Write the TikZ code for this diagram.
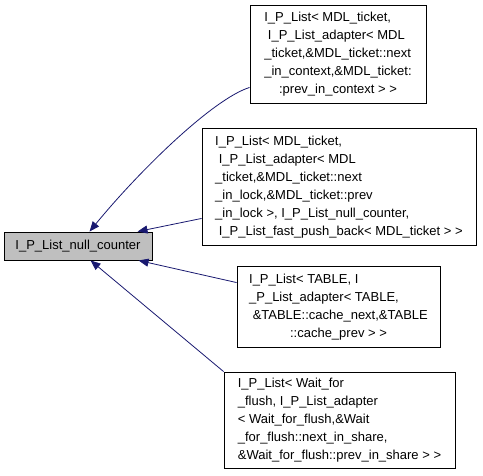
\documentclass[tikz,border=0pt]{standalone}
\usepackage{fontspec}
\setmainfont{Liberation Sans}
\usetikzlibrary{arrows.meta,calc}
\definecolor{nodegray}{HTML}{BFBFBF}
\definecolor{edgeblue}{HTML}{191970}
\newcommand{\lastln}[1]{\multicolumn{1}{@{}c@{}}{#1}}
\tikzset{
  classbox/.style={draw=black, line width=0.9pt, inner sep=0pt, anchor=center,
    font=\fontsize{13}{18}\selectfont},
  mainbox/.style={classbox, fill=nodegray},
  inherit/.style={draw=edgeblue, line width=0.8pt,
    -{Triangle[length=10pt,width=8pt,fill=edgeblue]}}
}
\begin{document}
\begin{tikzpicture}[x=1pt,y=-1pt]
\useasboundingbox (0,0) rectangle (483,475);

\node[mainbox, minimum width=148pt, minimum height=28pt] (main) at (78,246)
  {I\_P\_List\_null\_counter};

\node[classbox, minimum width=176pt, minimum height=98pt] (b1) at (338,54)
  {\begin{tabular}{@{}l@{}}
   I\_P\_List< MDL\_ticket,\\
   \ I\_P\_List\_adapter< MDL\\
   \_ticket,\&MDL\_ticket::next\\
   \_in\_context,\&MDL\_ticket:\\
   \lastln{:prev\_in\_context > >}
   \end{tabular}};

\node[classbox, minimum width=274pt, minimum height=117pt] (b2) at (339,186.5)
  {\begin{tabular}{@{}l@{}}
   I\_P\_List< MDL\_ticket,\\
   \ I\_P\_List\_adapter< MDL\\
   \_ticket,\&MDL\_ticket::next\\
   \_in\_lock,\&MDL\_ticket::prev\\
   \_in\_lock >, I\_P\_List\_null\_counter,\\
   \lastln{\ I\_P\_List\_fast\_push\_back< MDL\_ticket > >}
   \end{tabular}};

\node[classbox, minimum width=203pt, minimum height=81pt] (b3) at (338.5,306.5)
  {\begin{tabular}{@{}l@{}}
   I\_P\_List< TABLE, I\\
   \_P\_List\_adapter< TABLE,\\
   \ \&TABLE::cache\_next,\&TABLE\\
   \lastln{::cache\_prev > >}
   \end{tabular}};

\node[classbox, minimum width=231pt, minimum height=96pt] (b4) at (339.5,420)
  {\begin{tabular}{@{}l@{}}
   I\_P\_List< Wait\_for\\
   \_flush, I\_P\_List\_adapter\\
   < Wait\_for\_flush,\&Wait\\
   \_for\_flush::next\_in\_share,\\
   \lastln{\&Wait\_for\_flush::prev\_in\_share > >}
   \end{tabular}};

\draw[inherit] ($(b1.south west)+(0,-16)$) .. controls (213,99) and (140,170) .. ($(main.north west)+(86,0)$);
\draw[inherit] ($(b2.south west)+(0,-27)$) -- ($(main.north west)+(134,0)$);
\draw[inherit] ($(b3.north west)+(0,17)$) -- ($(main.south west)+(135,0)$);
\draw[inherit] (b4.north west) -- ($(main.south west)+(87,0)$);
\end{tikzpicture}
\end{document}
